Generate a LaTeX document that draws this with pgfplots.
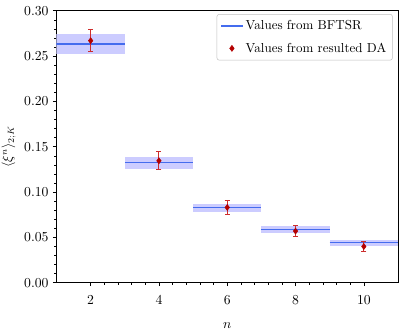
\documentclass[border=0pt]{standalone}
\usepackage{pgfplots}
\pgfplotsset{compat=1.18}
\definecolor{bandblue}{RGB}{204,204,255}
\definecolor{lineblue}{RGB}{68,108,238}
\definecolor{ptred}{RGB}{180,0,0}
\definecolor{errred}{RGB}{205,45,45}

\begin{document}
\begin{tikzpicture}
\begin{axis}[
    scale only axis,
    width=273.2pt, height=217.6pt,
    xmin=1, xmax=11, ymin=0, ymax=0.30,
    xtick={2,4,6,8,10},
    ytick={0,0.05,0.10,0.15,0.20,0.25,0.30},
    minor x tick num=4, minor y tick num=4,
    tick align=outside,
    xtick pos=bottom, ytick pos=left,
    major tick length=2.8pt, minor tick length=1.6pt,
    tick style={black, line width=0.5pt},
    tick label style={font=\fontsize{10.7}{12.8}\selectfont},
    label style={font=\fontsize{10.7}{12.8}\selectfont},
    yticklabel style={/pgf/number format/.cd, fixed, fixed zerofill, precision=2},
    xticklabel shift=4pt,
    xlabel={$n$}, xlabel shift=8pt,
    ylabel={$\langle\xi^n\rangle_{2;K}$}, ylabel shift=0pt,
    axis line style={line width=0.6pt},
    legend style={at={(1,1)}, anchor=north east, xshift=-4.2pt, yshift=-2.6pt,
        draw=black!25, rounded corners=2pt, row sep=5pt, inner sep=3pt,
        font=\fontsize{10.4}{12.5}\selectfont},
    legend cell align=left,
]

% bands from BFTSR
\addplot[fill=bandblue, draw=none, forget plot] coordinates {(1,0.2525) (3,0.2525) (3,0.2739) (1,0.2739)};
\addplot[fill=bandblue, draw=none, forget plot] coordinates {(3,0.1257) (5,0.1257) (5,0.1389) (3,0.1389)};
\addplot[fill=bandblue, draw=none, forget plot] coordinates {(5,0.0780) (7,0.0780) (7,0.0874) (5,0.0874)};
\addplot[fill=bandblue, draw=none, forget plot] coordinates {(7,0.0547) (9,0.0547) (9,0.0625) (7,0.0625)};
\addplot[fill=bandblue, draw=none, forget plot] coordinates {(9,0.0406) (11,0.0406) (11,0.0476) (9,0.0476)};

% central values
\addplot[lineblue, line width=1pt] coordinates {(1,0.2632) (3,0.2632)};
\addlegendentry{Values from BFTSR}
\addplot[lineblue, line width=1pt, forget plot] coordinates {(3,0.1323) (5,0.1323)};
\addplot[lineblue, line width=1pt, forget plot] coordinates {(5,0.0827) (7,0.0827)};
\addplot[lineblue, line width=1pt, forget plot] coordinates {(7,0.0586) (9,0.0586)};
\addplot[lineblue, line width=1pt, forget plot] coordinates {(9,0.0441) (11,0.0441)};

% values from the DA
\addplot[only marks, mark=diamond*, mark size=2.4pt, color=ptred,
    error bars/.cd, y dir=both, y explicit,
    error bar style={errred, line width=0.8pt},
    error mark options={rotate=90, mark size=2pt, errred, line width=0.8pt}]
    coordinates {
    (2,0.2670) +- (0,0.0120)
    (4,0.1345) +- (0,0.0100)
    (6,0.0830) +- (0,0.0080)
    (8,0.0570) +- (0,0.0060)
    (10,0.0400) +- (0,0.0050)
    };
\addlegendentry{Values from resulted DA}
\end{axis}
\pgfresetboundingbox
\path[use as bounding box] ([shift={(-45.2pt,-41.8pt)}]current axis.south west) rectangle ([shift={(0.8pt,8.6pt)}]current axis.north east);
\end{tikzpicture}
\end{document}
